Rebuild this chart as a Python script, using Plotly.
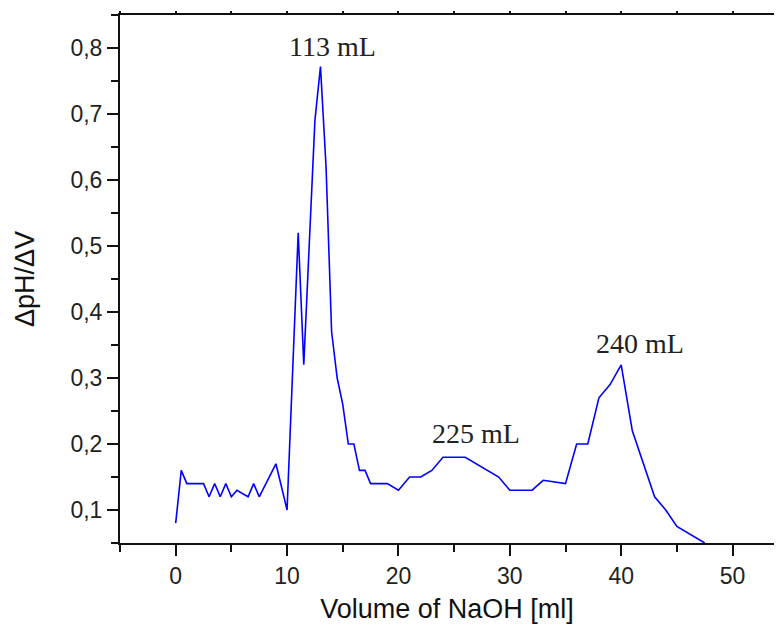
import plotly.graph_objects as go

volume_ml = [0, 0.5, 1, 2.5, 3, 3.5, 4, 4.5, 5, 5.5, 6.5, 7, 7.5, 9, 10, 11, 11.5,
             12.5, 13, 13.5, 14, 14.5, 15, 15.5, 16, 16.5, 17, 17.5, 19, 20, 21, 22,
             23, 24, 26, 29, 30, 32, 33, 35, 36, 37, 38, 39, 40, 41, 43, 44, 45, 47.5]
dph_dv = [0.08, 0.16, 0.14, 0.14, 0.12, 0.14, 0.12, 0.14, 0.12, 0.13, 0.12, 0.14, 0.12,
          0.17, 0.10, 0.52, 0.32, 0.69, 0.772, 0.62, 0.37, 0.30, 0.26, 0.20, 0.20, 0.16,
          0.16, 0.14, 0.14, 0.13, 0.15, 0.15, 0.16, 0.18, 0.18, 0.15, 0.13, 0.13, 0.145,
          0.14, 0.20, 0.20, 0.27, 0.29, 0.32, 0.22, 0.12, 0.10, 0.075, 0.05]

peak_labels = ["113 mL", "225 mL", "240 mL"]
peak_label_x = [14.1, 27.0, 41.7]
peak_label_y = [0.802, 0.216, 0.353]

x_tick_vals = [0, 10, 20, 30, 40, 50]
y_tick_vals = [0.1, 0.2, 0.3, 0.4, 0.5, 0.6, 0.7, 0.8]

fig = go.Figure()
fig.add_trace(go.Scatter(x=volume_ml, y=dph_dv, mode="lines",
                         line=dict(color="#0000ff", width=1.6),
                         showlegend=False, hoverinfo="x+y"))
# invisible trace for top axis ticks
fig.add_trace(go.Scatter(x=[volume_ml[0]], y=[dph_dv[0]], xaxis="x2", mode="lines",
                         line=dict(width=0), showlegend=False, hoverinfo="skip"))

for t, xx, yy in zip(peak_labels, peak_label_x, peak_label_y):
    fig.add_annotation(x=xx, y=yy, text=t, showarrow=False,
                       font=dict(family="Liberation Serif", size=28, color="#222222"))

axis_font = dict(family="Liberation Sans", size=23, color="#222222")
x_range = [-5, 53.72]

# page body has an 8px default margin: compensate in the figure size/margins
fig.update_layout(
    width=766, height=616,
    margin=dict(l=112, r=0, t=7, b=81, autoexpand=False),
    paper_bgcolor="white", plot_bgcolor="white",
    separators=", ",
    font=axis_font,
    xaxis=dict(range=x_range, tickvals=x_tick_vals, ticks="outside", ticklen=11,
               tickwidth=2, tickcolor="#111", showline=True, linewidth=2, linecolor="#111",
               showgrid=False, zeroline=False, mirror=True, automargin=False,
               minor=dict(dtick=5, tick0=-5, ticks="outside", ticklen=7, tickwidth=2,
                          tickcolor="#111", showgrid=False),
               title=dict(text="Volume of NaOH [ml]", font=dict(family="Liberation Sans", size=27,
                          color="#111"), standoff=14),
               tickfont=axis_font),
    xaxis2=dict(range=x_range, overlaying="x", side="top", dtick=5, tick0=0,
                ticks="outside", ticklen=3, tickwidth=2, tickcolor="#111", automargin=False,
                showticklabels=False, showgrid=False, zeroline=False, showline=False),
    yaxis=dict(range=[0.05, 0.85], tickvals=y_tick_vals, ticks="outside", ticklen=11,
               tickwidth=2, tickcolor="#111", showline=True, linewidth=2, linecolor="#111",
               showgrid=False, zeroline=False, tickformat=".1f", automargin=False,
               minor=dict(dtick=0.1, tick0=0.05, ticks="outside", ticklen=7, tickwidth=2,
                          tickcolor="#111", showgrid=False),
               title=dict(text="ΔpH/ΔV", font=dict(family="Liberation Sans", size=27,
                          color="#111"), standoff=28),
               tickfont=axis_font),
)

fig.write_html("out.html")
